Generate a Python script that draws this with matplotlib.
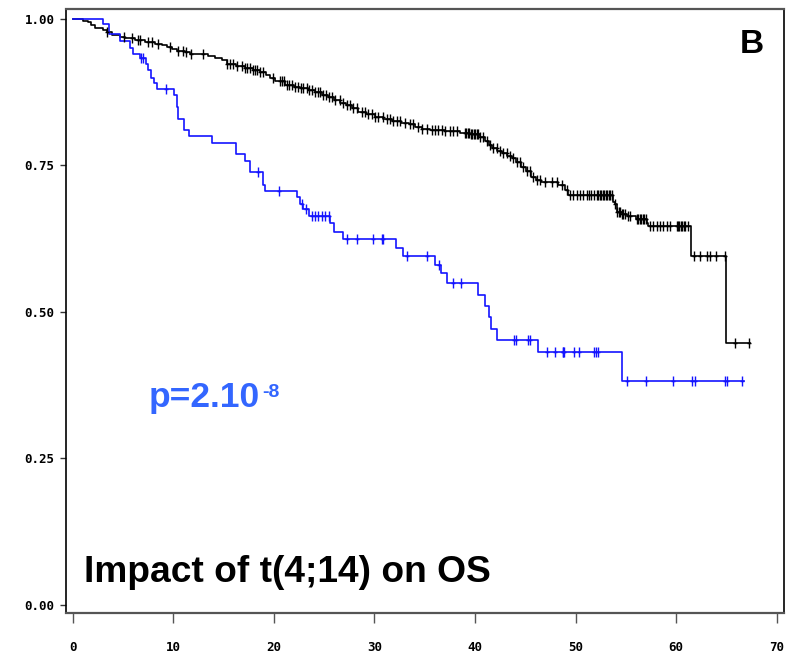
import numpy as np
import matplotlib.pyplot as plt
from matplotlib.path import Path

# Kaplan-Meier estimates (months, survival after each event)
black_time = [0, 1.05, 1.55, 1.79, 2.2, 3.04, 3.38, 3.88, 4.7, 5.2, 6.2, 7.2, 8.18,
              8.85, 9.35, 9.84, 10.34, 11.17, 11.7, 13.5, 14.15, 14.8, 15.3, 16.2,
              17.1, 17.9, 18.6, 19.2, 19.6, 20.1, 21.1, 22.0, 22.6, 23.4, 24.1, 24.8,
              25.4, 26.0, 26.6, 27.2, 27.8, 28.4, 29.2, 30.06, 30.9, 31.7, 32.6, 33.4,
              34.0, 34.7, 35.5, 37.0, 38.5, 39.5, 40.5, 41.0, 41.4, 41.7, 42.2, 42.7,
              43.2, 43.65, 44.1, 44.6, 45.1, 45.6, 46.1, 46.6, 48.3, 48.95, 49.3,
              53.75, 53.9, 54.1, 54.6, 55.1, 56.0, 57.1, 57.2, 61.5, 64.96]
black_surv = [1.0, 0.997, 0.994, 0.989, 0.985, 0.982, 0.978, 0.973, 0.969, 0.967, 0.964,
              0.961, 0.958, 0.955, 0.952, 0.948, 0.945, 0.943, 0.941, 0.937, 0.934, 0.930,
              0.923, 0.920, 0.917, 0.913, 0.910, 0.905, 0.899, 0.894, 0.887, 0.884, 0.882,
              0.878, 0.875, 0.871, 0.867, 0.862, 0.857, 0.853, 0.848, 0.842, 0.837, 0.833,
              0.830, 0.826, 0.823, 0.820, 0.816, 0.813, 0.811, 0.809, 0.806, 0.803, 0.798,
              0.791, 0.785, 0.779, 0.775, 0.771, 0.766, 0.762, 0.756, 0.748, 0.740, 0.731,
              0.726, 0.722, 0.717, 0.708, 0.699, 0.688, 0.685, 0.671, 0.667, 0.663, 0.658,
              0.652, 0.646, 0.596, 0.447]
black_end = 67.3
black_cens = [3.4, 5.1, 5.9, 6.5, 6.7, 7.5, 7.9, 8.5, 9.7, 10.5, 11.0, 11.3, 11.8, 13.0,
              15.3, 15.6, 15.9, 16.3, 16.8, 17.1, 17.3, 17.6, 17.9, 18.1, 18.3, 18.6, 18.9,
              19.9, 20.6, 20.8, 21.0, 21.3, 21.5, 21.8, 22.1, 22.4, 22.7, 22.9, 23.3, 23.5,
              23.8, 24.1, 24.4, 24.6, 24.9, 25.2, 25.5, 25.75, 26.08, 26.57, 26.9, 27.24,
              27.57, 27.9, 28.24, 28.73, 29.06, 29.39, 29.73, 30.06, 30.39, 30.89, 31.22,
              31.55, 31.88, 32.21, 32.55, 33.04, 33.54, 33.87, 34.37, 34.7, 35.2, 35.7,
              36.02, 36.35, 36.69, 37.02, 37.52, 37.85, 38.18, 39.0, 39.15, 39.3, 39.45,
              39.6, 39.75, 39.9, 40.05, 40.2, 40.35, 40.5, 40.83, 41.17, 41.49, 41.82,
              42.16, 42.49, 42.82, 43.15, 43.48, 43.81, 44.15, 44.48, 44.81, 45.14, 45.47,
              45.8, 46.14, 46.47, 46.96, 47.63, 48.13, 48.63, 49.12, 49.45, 49.78, 50.12,
              50.45, 50.78, 51.11, 51.3, 51.5, 51.8, 52.1, 52.25, 52.4, 52.55, 52.7, 52.85,
              53.0, 53.15, 53.3, 53.45, 53.6, 53.95, 54.15, 54.3, 54.45, 54.6, 54.75, 54.9,
              55.25, 55.4, 56.1, 56.25, 56.4, 56.55, 56.7, 56.85, 57.0, 57.4, 57.7, 58.1,
              58.4, 58.7, 59.1, 59.4, 60.1, 60.2, 60.3, 60.45, 60.6, 60.75, 60.9, 61.2,
              61.8, 62.4, 63.1, 63.4, 63.96, 64.9, 65.9, 67.2]

blue_time = [0, 3.04, 3.61, 4.70, 5.70, 5.97, 6.69, 7.29, 7.52, 7.76, 8.08, 8.35, 10.10,
             10.34, 10.50, 11.10, 11.56, 13.88, 16.21, 17.13, 17.63, 18.95, 19.12, 22.27,
             22.60, 22.93, 23.50, 25.58, 26.01, 26.91, 32.15, 32.87, 36.02, 36.59, 37.19,
             40.27, 41.00, 41.40, 41.59, 42.16, 46.24, 54.65]
blue_surv = [1.0, 0.991, 0.974, 0.963, 0.950, 0.941, 0.933, 0.923, 0.913, 0.899, 0.891,
             0.880, 0.870, 0.850, 0.829, 0.811, 0.800, 0.788, 0.770, 0.758, 0.738, 0.717,
             0.706, 0.696, 0.685, 0.675, 0.664, 0.652, 0.637, 0.625, 0.610, 0.596, 0.580,
             0.566, 0.549, 0.529, 0.510, 0.491, 0.4715, 0.452, 0.431, 0.383]
blue_end = 66.75
blue_cens = [6.75, 6.95, 9.25, 18.4, 20.5, 22.77, 23.2, 23.77, 24.1, 24.4, 24.76, 25.1,
             25.45, 27.24, 28.24, 29.89, 30.72, 30.89, 33.27, 35.2, 36.45, 37.78, 38.61,
             43.88, 44.05, 45.24, 45.47, 47.16, 47.96, 48.72, 48.78, 48.85, 49.85, 50.34,
             51.86, 52.03, 52.23, 55.15, 57.0, 59.66, 61.55, 61.88, 64.86, 65.09, 66.52]

x_ticks = [0, 10, 20, 30, 40, 50, 60, 70]
y_ticks = [0.0, 0.25, 0.5, 0.75, 1.0]

col_black = 'black'
col_blue = '#1414ff'

# censor mark: tall vertical bar with a short horizontal arm
cross = Path([(-0.32, 0), (0.32, 0), (0, -1), (0, 1)],
             [Path.MOVETO, Path.LINETO, Path.MOVETO, Path.LINETO])


def draw_km(ax, times, surv, end, cens, color):
    t = np.array(times + [end])
    s = np.array(surv + [surv[-1]])
    ax.step(t, s, where='post', color=color, lw=1.2, zorder=3)
    idx = np.searchsorted(np.array(times), np.array(cens), side='right') - 1
    cs = np.array(surv)[idx]
    ax.plot(cens, cs, linestyle='none', marker=cross, ms=7.6,
            mfc='none', mec=color, mew=1.0, zorder=4)


fig = plt.figure(figsize=(8.02, 6.56), dpi=100)
ax = fig.add_axes([65.7 / 802, 1 - 613.3 / 656, (784 - 65.7) / 802, (613.3 - 9) / 656])

draw_km(ax, black_time, black_surv, black_end, black_cens, col_black)
draw_km(ax, blue_time, blue_surv, blue_end, blue_cens, col_blue)

ax.set_xlim(-0.7, 70.73)
ax.set_ylim(-0.0142, 1.017)

ax.set_xticks(x_ticks)
ax.set_xticklabels([str(v) for v in x_ticks])
ax.set_yticks(y_ticks)
ax.set_yticklabels(['%.2f' % v for v in y_ticks])

for lab in ax.get_xticklabels() + ax.get_yticklabels():
    lab.set_fontfamily('DejaVu Sans Mono')
    lab.set_fontweight('bold')
    lab.set_fontsize(9)

ax.tick_params(axis='x', length=7.2, width=1.0, color='#555555', pad=13)
ax.tick_params(axis='y', length=4.3, width=1.0, color='#333333', pad=3.6)

ax.spines['top'].set_color('#555555')
ax.spines['top'].set_linewidth(1.6)
ax.spines['bottom'].set_color('#555555')
ax.spines['bottom'].set_linewidth(1.6)
ax.spines['left'].set_color('black')
ax.spines['left'].set_linewidth(1.2)
ax.spines['right'].set_color('black')
ax.spines['right'].set_linewidth(1.2)

txt_font = ['Liberation Sans', 'DejaVu Sans']
fig.text(149 / 802, 1 - 407 / 656, 'p=2.10', color='#3366ff', fontsize=25.5,
         fontweight='bold', family=txt_font, ha='left', va='baseline')
fig.text(262 / 802, 1 - 396.7 / 656, '-8', color='#3366ff', fontsize=14,
         fontweight='bold', family=txt_font, ha='left', va='baseline')
fig.text(84 / 802, 1 - 581.7 / 656, 'Impact of t(4;14) on OS', color='black',
         fontsize=26.7, fontweight='bold', family=txt_font, ha='left', va='baseline')
fig.text(740 / 802, 1 - 53.3 / 656, 'B', color='black', fontsize=24,
         fontweight='bold', family=txt_font, ha='left', va='baseline')

fig.savefig('out.png', dpi=100)
